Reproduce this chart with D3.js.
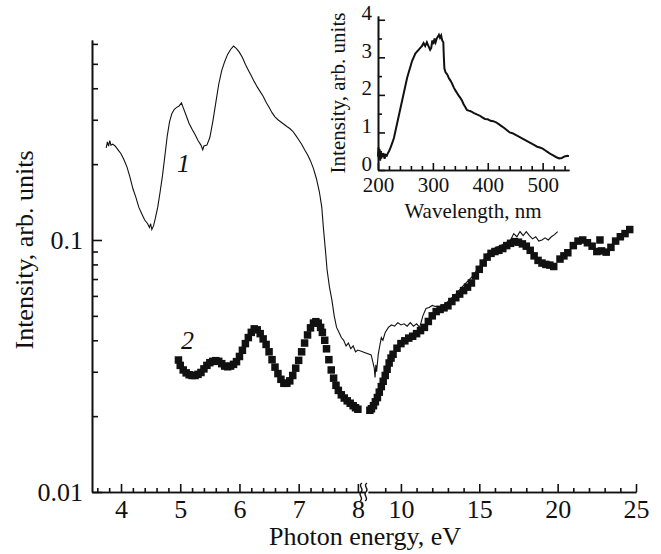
<!DOCTYPE html>
<html>
<head>
<meta charset="utf-8">
<script src="https://cdn.jsdelivr.net/npm/d3@7"></script>
<style>
  body { margin: 0; background: #fff; }
  text { font-family: "Liberation Serif", "Times New Roman", serif; fill: #111; }
</style>
</head>
<body>
<svg id="chart"></svg>
<script>
let w = 661;
let h = 554;

// curve 1 (thin line): photon energy, eV / intensity
const energy1 = [3.75,3.77,3.79,3.81,3.83,3.86,3.90,3.95,4.00,4.05,4.10,4.15,4.20,4.25,4.30,4.35,4.40,4.45,4.48,4.50,4.52,4.55,4.58,4.62,4.66,4.70,4.74,4.78,4.82,4.86,4.90,4.94,4.98,5.02,5.05,5.10,5.15,5.20,5.25,5.30,5.35,5.38,5.40,5.45,5.50,5.55,5.60,5.65,5.70,5.75,5.80,5.85,5.90,5.95,6.00,6.05,6.10,6.15,6.20,6.25,6.30,6.35,6.40,6.45,6.50,6.55,6.60,6.65,6.70,6.75,6.80,6.85,6.90,6.95,7.00,7.05,7.10,7.15,7.20,7.25,7.30,7.35,7.39,7.42,7.45,7.48,7.52,7.56,7.60,7.64,7.68,7.72,7.76,7.80,7.84,7.88,7.92,7.96,8.00,
  8.1,8.2,8.3,8.35,8.4,8.45,8.55,8.65,8.75,8.85,9.0,9.2,9.4,9.6,9.8,10.0,10.2,10.4,10.6,10.8,11.0,11.2,11.4,11.6,11.8,12.0,12.2,12.4,12.7,13.0,13.5,14.0,14.5,15.0,15.5,16.0,16.5,17.0,17.2,17.4,17.6,17.8,18.0,18.2,18.4,18.6,18.8,19.0,19.2,19.4,19.6,19.8,20.0];
const intensity1 = [0.232,0.245,0.236,0.248,0.238,0.240,0.236,0.228,0.220,0.208,0.195,0.178,0.160,0.148,0.135,0.127,0.120,0.116,0.112,0.116,0.110,0.114,0.122,0.135,0.155,0.180,0.215,0.258,0.295,0.318,0.330,0.336,0.340,0.350,0.335,0.312,0.290,0.275,0.262,0.248,0.238,0.228,0.236,0.238,0.255,0.295,0.350,0.415,0.470,0.510,0.545,0.570,0.588,0.575,0.555,0.530,0.498,0.472,0.448,0.425,0.405,0.388,0.372,0.352,0.336,0.320,0.308,0.300,0.294,0.288,0.282,0.277,0.270,0.260,0.250,0.240,0.228,0.218,0.206,0.192,0.175,0.155,0.135,0.110,0.092,0.076,0.065,0.058,0.050,0.045,0.043,0.041,0.040,0.038,0.039,0.037,0.038,0.036,0.0366,
  0.035,0.033,0.031,0.0285,0.032,0.030,0.035,0.038,0.041,0.040,0.043,0.045,0.046,0.0455,0.047,0.046,0.0465,0.0455,0.047,0.0455,0.0465,0.045,0.050,0.0535,0.054,0.055,0.0545,0.0545,0.055,0.057,0.061,0.066,0.071,0.078,0.088,0.093,0.096,0.100,0.106,0.103,0.108,0.104,0.108,0.104,0.101,0.103,0.099,0.100,0.102,0.100,0.103,0.105,0.108];

// curve 2 (squares)
const energy2 = [4.97,5.00,5.05,5.10,5.15,5.20,5.25,5.30,5.35,5.40,5.45,5.50,5.55,5.60,5.65,5.70,5.75,5.80,5.85,5.90,5.95,6.00,6.05,6.10,6.15,6.20,6.25,6.30,6.35,6.40,6.45,6.50,6.55,6.60,6.65,6.70,6.75,6.80,6.85,6.90,6.95,7.00,7.05,7.10,7.15,7.20,7.25,7.29,7.33,7.37,7.40,7.44,7.47,7.51,7.55,7.59,7.63,7.67,7.72,7.77,7.82,7.87,7.92,7.96,8.00,
  8.02,8.12,8.25,8.37,8.5,8.62,8.75,8.87,9.0,9.12,9.25,9.37,9.5,9.75,10.0,10.25,10.5,10.75,11.0,11.25,11.5,11.75,12.0,12.25,12.5,12.75,13.0,13.25,13.5,13.75,14.0,14.25,14.5,14.75,15.0,15.25,15.5,15.75,16.0,16.25,16.5,16.75,17.0,17.25,17.5,17.75,18.0,18.25,18.5,18.75,19.0,19.25,19.5,19.75,
  20.15,20.4,20.65,21.0,21.3,21.6,21.9,22.2,22.5,22.7,22.8,23.1,23.4,23.7,24.0,24.3,24.6];
const intensity2 = [0.0334,0.0318,0.0305,0.0297,0.0292,0.0290,0.0290,0.0293,0.0298,0.0308,0.0318,0.0326,0.0330,0.0332,0.0330,0.0323,0.0316,0.0314,0.0316,0.0321,0.0329,0.0345,0.0365,0.0388,0.0410,0.0430,0.0444,0.0440,0.0425,0.0405,0.0385,0.0360,0.0335,0.0313,0.0295,0.0280,0.0270,0.0270,0.0276,0.0290,0.0310,0.0333,0.0360,0.0390,0.0420,0.0448,0.0468,0.0474,0.0468,0.0450,0.0430,0.0400,0.0370,0.0335,0.0305,0.0283,0.0265,0.0253,0.0243,0.0236,0.0230,0.0225,0.0220,0.0216,0.0213,
  0.0211,0.0214,0.0220,0.0228,0.0237,0.0249,0.0262,0.0275,0.0290,0.0307,0.0325,0.0340,0.0352,0.0372,0.0388,0.0398,0.0408,0.0415,0.0425,0.0437,0.0450,0.0475,0.0500,0.0520,0.0530,0.0538,0.0548,0.0570,0.0590,0.0610,0.0630,0.0650,0.0675,0.0720,0.0765,0.0810,0.0855,0.0885,0.0900,0.0910,0.0925,0.0950,0.0970,0.0985,0.0980,0.0965,0.0945,0.0910,0.0865,0.0830,0.0810,0.0800,0.0795,0.0785,
  0.0840,0.0865,0.0890,0.0950,0.0990,0.1000,0.0975,0.0945,0.0900,0.1000,0.0905,0.0895,0.0935,0.0990,0.1030,0.1060,0.1100];

// inset: wavelength, nm / intensity
const wavelength = [200,201,202,203,204,205,206,207,208,210,212,214,216,218,220,223,226,229,232,235,238,241,244,247,250,253,256,259,262,265,268,271,274,277,280,283,286,289,292,295,297,299,301,303,305,307,309,311,313,315,317,319,320,321,323,326,329,332,335,338,341,344,347,350,353,356,359,362,365,368,371,374,377,380,385,390,395,400,405,410,415,420,425,430,435,440,445,450,455,460,465,470,475,480,485,490,495,500,505,510,515,520,525,530,535,540,545,548];
const insetIntensity = [0.35,0.6,0.3,0.55,0.25,0.5,0.3,0.45,0.35,0.45,0.3,0.4,0.38,0.45,0.5,0.6,0.72,0.85,1.05,1.25,1.45,1.65,1.85,2.05,2.25,2.45,2.6,2.75,2.9,3.0,3.1,3.15,3.2,3.25,3.3,3.38,3.3,3.4,3.3,3.2,3.25,3.45,3.35,3.5,3.4,3.5,3.55,3.6,3.52,3.58,3.45,3.4,3.0,2.7,2.6,2.55,2.45,2.38,2.3,2.2,2.12,2.05,1.98,1.92,1.85,1.75,1.68,1.6,1.58,1.57,1.55,1.52,1.5,1.48,1.45,1.4,1.36,1.35,1.31,1.3,1.27,1.22,1.17,1.12,1.06,1.0,0.98,0.94,0.9,0.86,0.82,0.78,0.74,0.7,0.66,0.62,0.6,0.57,0.52,0.47,0.42,0.38,0.34,0.31,0.32,0.36,0.38,0.37];

// ticks
const xMajor1 = [4, 5, 6, 7, 8];
const xMinor1 = [3.6, 3.8, 4.2, 4.4, 4.6, 4.8, 5.2, 5.4, 5.6, 5.8, 6.2, 6.4, 6.6, 6.8, 7.2, 7.4, 7.6, 7.8];
const xMajor2 = [10, 15, 20, 25];
const xMinor2 = [9, 11, 12, 13, 14, 16, 17, 18, 19, 21, 22, 23, 24];
const yMajor = [0.01, 0.1];
const yMinor = [0.02, 0.03, 0.04, 0.05, 0.06, 0.07, 0.08, 0.09, 0.2, 0.3, 0.4, 0.5, 0.6];
const insetXMajor = [200, 300, 400, 500];
const insetXMinor = [220, 240, 260, 280, 320, 340, 360, 380, 420, 440, 460, 480, 520, 540];
const insetYMajor = [0, 1, 2, 3, 4];
const insetYMinor = [0.5, 1.5, 2.5, 3.5];

function createGraph() {
    const chart = d3.select('#chart')
        .attr('width', w)
        .attr('height', h);

    chart.append('rect').attr('width', w).attr('height', h).attr('fill', '#fff');

    // broken x axis: two linear pieces
    const x1 = d3.scaleLinear().domain([3.51, 8.12]).range([92, 365]);
    const x2 = d3.scaleLinear().domain([7.9, 25]).range([368, 636]);
    const xE = e => e <= 8.0 ? x1(e) : x2(e);
    const y = d3.scaleLog().domain([0.01, 0.6217]).range([492, 40]);

    const styleAxis = (g, size) => {
        g.selectAll('path, line').attr('stroke', '#111').attr('stroke-width', 1.6);
        g.selectAll('text').style('font-size', size + 'px').attr('fill', '#111');
    };

    // x axis, first piece
    chart.append('g').attr('transform', 'translate(0,492)')
        .call(d3.axisBottom(x1).tickValues(xMinor1).tickSize(-4).tickSizeOuter(0).tickFormat(''))
        .call(g => styleAxis(g, 26));
    chart.append('g').attr('transform', 'translate(0,492)')
        .call(d3.axisBottom(x1).tickValues(xMajor1).tickSize(-8).tickSizeOuter(0).tickPadding(8).tickFormat(d3.format('d')))
        .call(g => styleAxis(g, 26));

    // x axis, second piece
    chart.append('g').attr('transform', 'translate(0,492)')
        .call(d3.axisBottom(x2).tickValues(xMinor2).tickSize(-4).tickSizeOuter(0).tickFormat(''))
        .call(g => styleAxis(g, 26));
    chart.append('g').attr('transform', 'translate(0,492)')
        .call(d3.axisBottom(x2).tickValues(xMajor2).tickSize(-8).tickSizeOuter(0).tickPadding(8).tickFormat(d3.format('d')))
        .call(g => styleAxis(g, 26));

    // break marks
    [362, 367].forEach(bx => {
        chart.append('path')
            .attr('d', `M${bx - 2},${501} c 5,-3 -3,-6 1,-9 c 4,-3 -4,-6 1,-9`)
            .attr('fill', 'none').attr('stroke', '#111').attr('stroke-width', 1.3);
    });

    // y axis
    chart.append('g').attr('transform', 'translate(92,0)')
        .call(d3.axisLeft(y).tickValues(yMinor).tickSize(-6).tickSizeOuter(0).tickFormat(''))
        .call(g => styleAxis(g, 26));
    chart.append('g').attr('transform', 'translate(92,0)')
        .call(d3.axisLeft(y).tickValues(yMajor).tickSize(-10).tickSizeOuter(0).tickPadding(9).tickFormat(d => d))
        .call(g => styleAxis(g, 26));

    // curve 1
    const line1 = d3.line().x(d => xE(d[0])).y(d => y(d[1]));
    chart.append('path')
        .datum(d3.zip(energy1, intensity1))
        .attr('d', line1)
        .attr('fill', 'none').attr('stroke', '#111').attr('stroke-width', 1.1);

    // curve 2
    const s = 7.5;
    chart.selectAll('rect.pt')
        .data(d3.zip(energy2, intensity2))
        .enter()
        .append('rect')
        .attr('class', 'pt')
        .attr('x', d => xE(d[0]) - s / 2)
        .attr('y', d => y(d[1]) - s / 2)
        .attr('width', s).attr('height', s)
        .attr('fill', '#111');

    // curve numbers
    chart.append('text').attr('x', 177).attr('y', 172).text('1')
        .style('font-size', '26px').style('font-style', 'italic');
    chart.append('text').attr('x', 181).attr('y', 349).text('2')
        .style('font-size', '26px').style('font-style', 'italic');

    // axis titles
    chart.append('text').attr('x', 365).attr('y', 545).attr('text-anchor', 'middle')
        .text('Photon energy, eV').style('font-size', '26px');
    chart.append('text').attr('transform', 'translate(33,250) rotate(-90)').attr('text-anchor', 'middle')
        .text('Intensity, arb. units').style('font-size', '26px');

    // inset
    const ix = d3.scaleLinear().domain([200, 548]).range([378, 569]);
    const iy = d3.scaleLinear().domain([0, 4.1]).range([170, 16]);

    chart.append('g').attr('transform', 'translate(0,170)')
        .call(d3.axisBottom(ix).tickValues(insetXMinor).tickSize(-4).tickSizeOuter(0).tickFormat(''))
        .call(g => styleAxis(g, 21));
    chart.append('g').attr('transform', 'translate(0,170)')
        .call(d3.axisBottom(ix).tickValues(insetXMajor).tickSize(-7).tickSizeOuter(0).tickPadding(7).tickFormat(d3.format('d')))
        .call(g => styleAxis(g, 21));
    chart.append('g').attr('transform', 'translate(378,0)')
        .call(d3.axisLeft(iy).tickValues(insetYMinor).tickSize(-4).tickSizeOuter(0).tickFormat(''))
        .call(g => styleAxis(g, 21));
    chart.append('g').attr('transform', 'translate(378,0)')
        .call(d3.axisLeft(iy).tickValues(insetYMajor).tickSize(-7).tickSizeOuter(0).tickPadding(6).tickFormat(d3.format('d')))
        .call(g => styleAxis(g, 21))
        .call(g => g.selectAll('text').attr('dy', '0em'));

    const line3 = d3.line().x(d => ix(d[0])).y(d => iy(d[1]));
    chart.append('path')
        .datum(d3.zip(wavelength, insetIntensity))
        .attr('d', line3)
        .attr('fill', 'none').attr('stroke', '#111').attr('stroke-width', 2);

    chart.append('text').attr('x', 473).attr('y', 218).attr('text-anchor', 'middle')
        .text('Wavelength, nm').style('font-size', '21px');
    chart.append('text').attr('transform', 'translate(345,93) rotate(-90)').attr('text-anchor', 'middle')
        .text('Intensity, arb. units').style('font-size', '21px');
}

createGraph();
</script>
</body>
</html>
